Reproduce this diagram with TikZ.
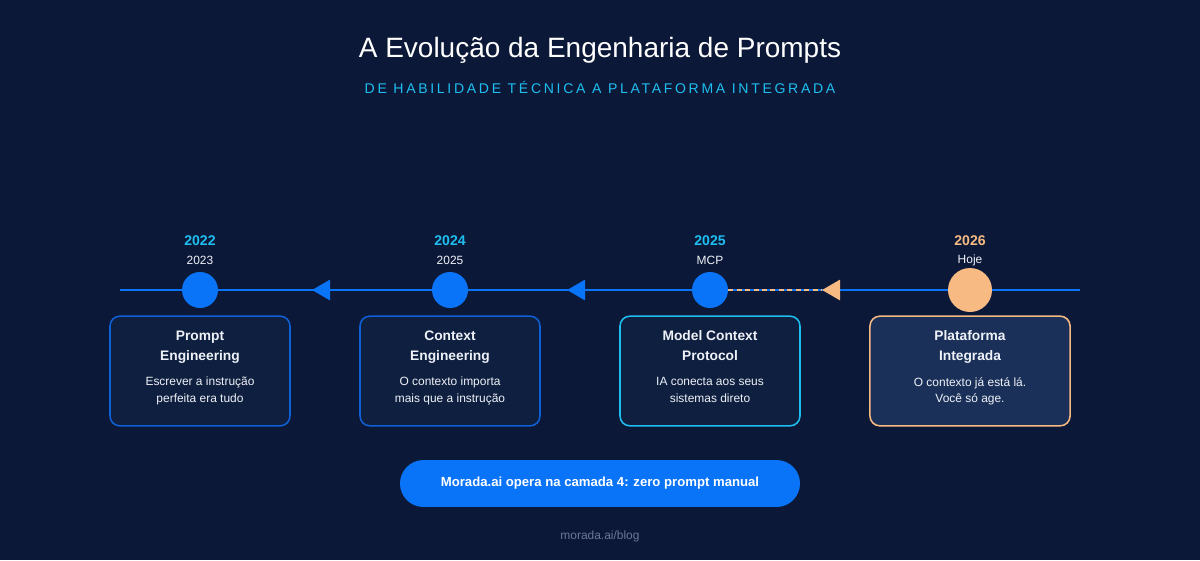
\documentclass[tikz,border=0pt]{standalone}
\usepackage{fontspec}
\setmainfont{Liberation Sans}
\newfontfamily\spacedfont[LetterSpace=19]{Liberation Sans}
\usepackage{tikz}
\usetikzlibrary{positioning,calc,arrows.meta}
\definecolor{bgnavy}{HTML}{0C1837}
\definecolor{boxnavy}{HTML}{0F1F3F}
\definecolor{boxlight}{HTML}{1B3058}
\definecolor{tlblue}{HTML}{0A74F8}
\definecolor{boxblue}{HTML}{0F5FD6}
\definecolor{tlcyan}{HTML}{1EBFF0}
\definecolor{tlorange}{HTML}{F6BA82}
\definecolor{txtwhite}{HTML}{EEF2F8}
\definecolor{footgray}{HTML}{6A7899}

\begin{document}
\begin{tikzpicture}[x=0.025cm, y=-0.025cm, tl/.style={draw=tlblue, line width=2.1pt}, tip/.style={-{Triangle[length=12.8pt, width=14.2pt]}}, dot/.style={circle, fill=tlblue, minimum size=25.6pt, inner sep=0pt}, yr/.style={font=\bfseries\fontsize{10}{12}\selectfont, text=tlcyan}, sub/.style={font=\fontsize{8.5}{10}\selectfont, text=txtwhite}, box/.style={draw=boxblue, fill=boxnavy, line width=1.1pt, rounded corners=7pt, minimum width=128pt, minimum height=78pt}, ttl/.style={font=\bfseries\fontsize{9.8}{14.2}\selectfont, text=txtwhite, align=center, anchor=north, inner sep=0pt}, dsc/.style={font=\fontsize{8.5}{12}\selectfont, text=txtwhite, align=center, anchor=north, inner sep=0pt}, dsh/.style={draw=tlorange, line width=1.4pt, dash pattern=on 3.5pt off 2.5pt}]

\path[use as bounding box, fill=bgnavy] (0,0) rectangle (1200,560);

\node[font=\fontsize{19.9}{23}\selectfont, text=white] (title) at (600,50) {A Evolução da Engenharia de Prompts};
\node[font=\spacedfont\fontsize{10}{12}\selectfont, text=tlcyan] (subtitle) at (600,87) {DE HABILIDADE TÉCNICA A PLATAFORMA INTEGRADA};

\coordinate (ls) at (120,290);
\coordinate (le) at (1080,290);
\coordinate (a1) at (312,290);
\coordinate (a2) at (567,290);
\coordinate (a3) at (822,290);
\draw[tl] (ls) -- (le);

\node[dot] (c1) at (200,290) {};
\node[dot] (c2) at (450,290) {};
\node[dot] (c3) at (710,290) {};
\node[dot, fill=tlorange, minimum size=31.3pt] (c4) at (970,290) {};

\draw[dsh] (c3) -- (a3);
\path
 (c2) edge[tl, tip] (a1)
 (c3) edge[tl, tip] (a2)
 (c4) edge[tl, -{Triangle[length=12.8pt, width=14.2pt, color=tlorange]}] (a3);

\node[yr] (y1) at (200,241) {2022};
\node[yr] (y2) at (450,241) {2024};
\node[yr] (y3) at (710,241) {2025};
\node[yr, text=tlorange] (y4) at (970,241) {2026};
\node[sub] (n1) at (200,260) {2023};
\node[sub] (n2) at (450,260) {2025};
\node[sub] (n3) at (710,260) {MCP};
\node[sub] (n4) at (970,260) {Hoje};

\node[box] (b1) at (200,371) {};
\node[box] (b2) at (450,371) {};
\node[box, draw=tlcyan] (b3) at (710,371) {};
\node[box, draw=tlorange, fill=boxlight, minimum width=142.3pt] (b4) at (970,371) {};

\node[ttl] (t1) at (200,331) {Prompt\\Engineering};
\node[ttl] (t2) at (450,331) {Context\\Engineering};
\node[ttl] (t3) at (710,330) {Model Context\\Protocol};
\node[ttl] (t4) at (970,330) {Plataforma\\Integrada};
\node[dsc] (d1) at (200,377) {Escrever a instrução\\perfeita era tudo};
\node[dsc] (d2) at (450,377) {O contexto importa\\mais que a instrução};
\node[dsc] (d3) at (710,377) {IA conecta aos seus\\sistemas direto};
\node[dsc] (d4) at (970,377) {O contexto já está lá.\\Você só age.};

\node[fill=tlblue, rounded corners=16.7pt, minimum width=284.5pt, minimum height=33.4pt, text=white, font=\bfseries\fontsize{9.35}{12}\selectfont] (cta) at (600,483.5) {Morada.ai opera na camada 4: zero prompt manual};
\node[font=\fontsize{8.5}{10}\selectfont, text=footgray] (url) at (600,536) {morada.ai/blog};
\end{tikzpicture}
\end{document}
